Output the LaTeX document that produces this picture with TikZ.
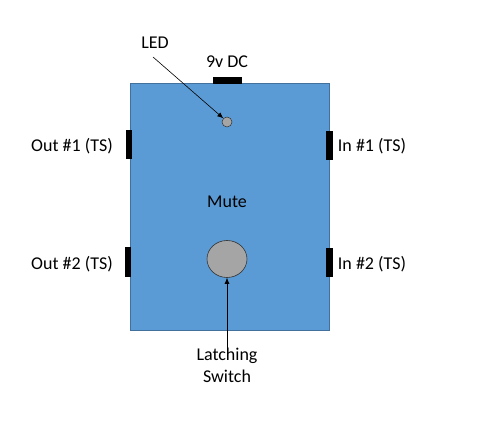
\documentclass[tikz,border=0pt]{standalone}
\usepackage{fontspec}
\setmainfont{Carlito}
\usetikzlibrary{arrows.meta,shapes.geometric}
\definecolor{boxblue}{HTML}{5B9BD5}
\definecolor{boxedge}{HTML}{41719C}
\definecolor{knob}{HTML}{A5A5A5}
\begin{document}
\begin{tikzpicture}[x=1pt,y=-1pt,
  lbl/.style={font=\fontsize{18}{22}\selectfont, inner sep=0pt, align=center},
  jack/.style={fill=black, draw=none},
  ptr/.style={-{Latex[length=6pt,width=5pt]}, line width=0.6pt}]
\useasboundingbox (0,0) rectangle (480,422);
\fill[white] (0,0) rectangle (480,422);
% body
\draw[fill=boxblue, draw=boxedge, line width=0.6pt] (130,83) rectangle (329,330);
\node[inner sep=0pt] (body) at (229.5,206.5) {};
% jacks
\fill[jack] (213,77) rectangle (242,84);
\fill[jack] (126,130) rectangle (132,159);
\fill[jack] (125,247) rectangle (131,277);
\fill[jack] (326,131) rectangle (333,160);
\fill[jack] (326,248) rectangle (333,277);
% LED and switch
\node[circle, draw=black!80, fill=knob, minimum size=10pt, inner sep=0pt, line width=0.5pt] (led) at (227,122) {};
\node[ellipse, draw=black!80, fill=knob, minimum width=40pt, minimum height=37pt, inner sep=0pt, line width=0.6pt] (sw) at (227,259) {};
% labels
\node[lbl] (ledl) at (155,43) {LED};
\node[lbl] (dc) at (227,62) {9v DC};
\node[lbl] (o1) at (72,146) {Out \#1 (TS)};
\node[lbl] (o2) at (72,264) {Out \#2 (TS)};
\node[lbl] (i1) at (372,146) {In \#1 (TS)};
\node[lbl] (i2) at (372,264) {In \#2 (TS)};
\node[lbl] (mute) at (227,202) {Mute};
\node[lbl, align=center] (swl) at (227,365) {Latching\\Switch};
% pointers
\coordinate (ledstart) at (153,57);
\draw[ptr] (ledstart) -- (led.north west);
\draw[ptr] ([yshift=-2pt]swl.north) -- (sw.south);
\end{tikzpicture}
\end{document}
